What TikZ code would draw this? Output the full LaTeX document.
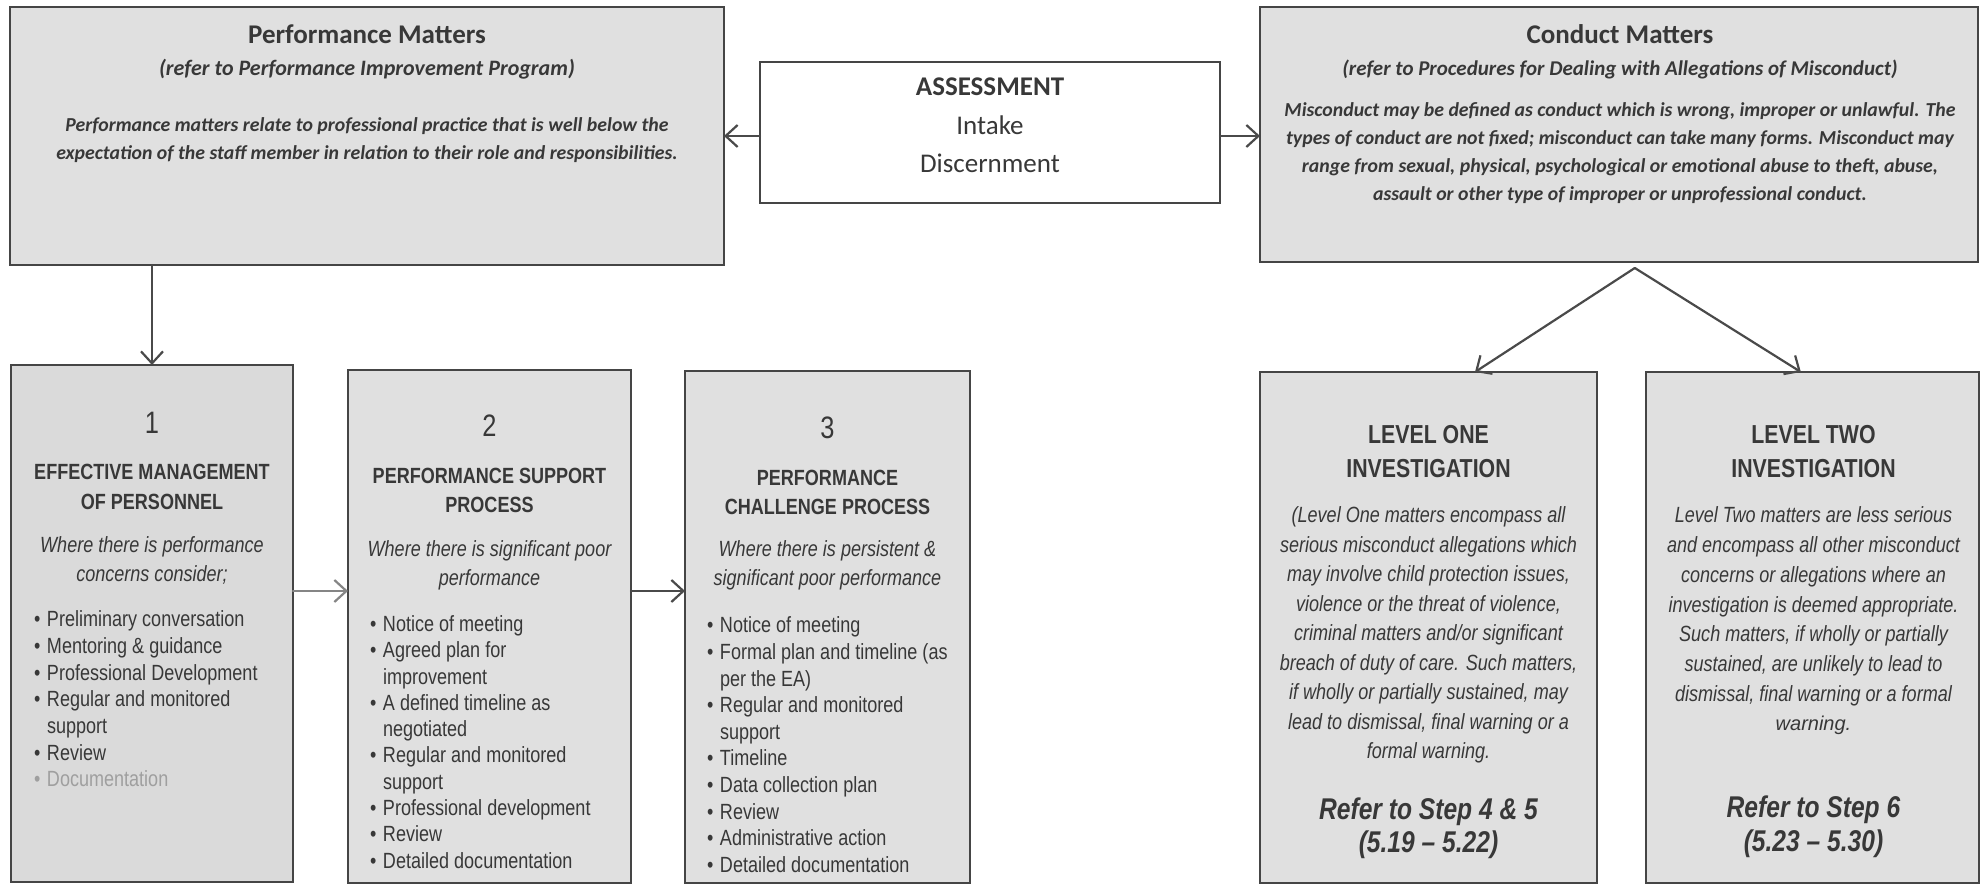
\documentclass[tikz,border=0pt]{standalone}
\usepackage{fontspec}
\usetikzlibrary{arrows.meta,calc}
\newfontfamily\calfont{Carlito}
\newfontfamily\narfont[FakeStretch=0.82]{Liberation Sans}
\newfontfamily\arfont{Liberation Sans}
\definecolor{boxc}{HTML}{E0E0E0}
\definecolor{boxd}{HTML}{DADADA}
\definecolor{bordc}{HTML}{454545}
\definecolor{txtc}{HTML}{383838}
\definecolor{arrc}{HTML}{4A4A4A}
\definecolor{arrl}{HTML}{858585}
\newcommand\ctext[2]{\parbox[t]{#1}{\centering #2}}
\newcommand\ltext[2]{\parbox[t]{#1}{\raggedright #2}}
\newcommand\bl{\makebox[6.5pt][l]{\textbullet}}
\newcommand\ind{\hspace*{6.5pt}}
\tikzset{
  box/.style={draw=bordc, line width=1.2pt, fill=boxc, inner sep=0pt, outer sep=0pt},
  wbox/.style={box, fill=white},
  txt/.style={inner sep=0pt, outer sep=0pt, text=txtc, anchor=base},
  ltxt/.style={txt, anchor=base west},
  arr/.style={draw=arrc, line width=1.1pt, line cap=round, -{Straight Barb[length=6pt,width=11pt,line width=1.1pt]}},
}
\begin{document}
\begin{tikzpicture}[x=0.5pt,y=-0.5pt]
\useasboundingbox (0,0) rectangle (1982,886);
\fill[white] (0,0) rectangle (1982,886);

% ---------- boxes ----------
\node[box, minimum width=357pt, minimum height=129pt] (PM) at (367,136) {};
\node[wbox, minimum width=230pt, minimum height=70.5pt] (AS) at (990,132.5) {};
\node[box, minimum width=359pt, minimum height=127.5pt] (CM) at (1619,134.5) {};
\node[box, fill=boxd, minimum width=141pt, minimum height=258.5pt] (B1) at (152,623.5) {};
\node[box, minimum width=141.5pt, minimum height=256.5pt] (B2) at (489.5,626.5) {};
\node[box, minimum width=142.5pt, minimum height=256pt] (B3) at (827.5,627) {};
\node[box, minimum width=168.5pt, minimum height=255.5pt] (L1) at (1428.5,627.5) {};
\node[box, minimum width=166.5pt, minimum height=255.5pt] (L2) at (1812.5,627.5) {};

% ---------- Performance Matters ----------
\node[txt] (pmt) at (367,44) {\calfont\bfseries\fontsize{13.5}{16}\selectfont Performance Matters};
\node[txt] (pms) at (367,75.5) {\calfont\bfseries\itshape\fontsize{11}{13}\selectfont (refer to Performance Improvement Program)};
\node[txt] (pmb) at (367,132) {\ctext{400pt}{\calfont\bfseries\itshape\fontsize{9.9}{14}\selectfont
  Performance matters relate to professional practice that is well below the\\
  expectation of the staff member in relation to their role and responsibilities.}};

% ---------- Assessment ----------
\node[txt] (ast) at (990,95.6) {\calfont\bfseries\fontsize{13.5}{16}\selectfont ASSESSMENT};
\node[txt] (asb) at (990,134.5) {\ctext{200pt}{\calfont\fontsize{13.5}{19}\selectfont Intake\\ Discernment}};

% ---------- Conduct Matters ----------
\node[txt] (cmt) at (1620,44) {\calfont\bfseries\fontsize{13.5}{16}\selectfont Conduct Matters};
\node[txt] (cms) at (1620,75.5) {\calfont\bfseries\itshape\fontsize{10.5}{13}\selectfont (refer to Procedures for Dealing with Allegations of Misconduct)};
\node[txt] (cmb) at (1620,117) {\ctext{400pt}{\calfont\bfseries\itshape\fontsize{9.9}{13.85}\selectfont
  Misconduct may be defined as conduct which is wrong, improper or unlawful. The\\
  types of conduct are not fixed; misconduct can take many forms. Misconduct may\\
  range from sexual, physical, psychological or emotional abuse to theft, abuse,\\
  assault or other type of improper or unprofessional conduct.}};

% ---------- Box 1 ----------
\node[txt] (b1n) at (152,434) {\narfont\fontsize{15.5}{18}\selectfont 1};
\node[txt] (b1t) at (152,480) {\ctext{160pt}{\narfont\bfseries\fontsize{11}{15}\selectfont EFFECTIVE MANAGEMENT\\ OF PERSONNEL}};
\node[txt] (b1i) at (152,553) {\ctext{160pt}{\narfont\itshape\fontsize{11}{14.5}\selectfont Where there is performance\\ concerns consider;}};
\node[ltxt] (b1l) at (34,627) {\ltext{150pt}{\narfont\fontsize{11}{13.33}\selectfont
  \bl Preliminary conversation\\
  \bl Mentoring \& guidance\\
  \bl Professional Development\\
  \bl Regular and monitored\\
  \ind support\\
  \bl Review\\
  {\color{gray!75}\bl Documentation}}};

% ---------- Box 2 ----------
\node[txt] (b2n) at (489.5,437) {\narfont\fontsize{15.5}{18}\selectfont 2};
\node[txt] (b2t) at (489.5,484) {\ctext{160pt}{\narfont\bfseries\fontsize{11}{14.5}\selectfont PERFORMANCE SUPPORT\\ PROCESS}};
\node[txt] (b2i) at (489.5,557) {\ctext{160pt}{\narfont\itshape\fontsize{11}{14.5}\selectfont Where there is significant poor\\ performance}};
\node[ltxt] (b2l) at (370,631.5) {\ltext{150pt}{\narfont\fontsize{11}{13.15}\selectfont
  \bl Notice of meeting\\
  \bl Agreed plan for\\
  \ind improvement\\
  \bl A defined timeline as\\
  \ind negotiated\\
  \bl Regular and monitored\\
  \ind support\\
  \bl Professional development\\
  \bl Review\\
  \bl Detailed documentation}};

% ---------- Box 3 ----------
\node[txt] (b3n) at (827.5,439) {\narfont\fontsize{15.5}{18}\selectfont 3};
\node[txt] (b3t) at (827.5,485.5) {\ctext{160pt}{\narfont\bfseries\fontsize{11}{14.3}\selectfont PERFORMANCE\\ CHALLENGE PROCESS}};
\node[txt] (b3i) at (827.5,557) {\ctext{160pt}{\narfont\itshape\fontsize{11}{14.5}\selectfont Where there is persistent \&\\ significant poor performance}};
\node[ltxt] (b3l) at (707,633) {\ltext{150pt}{\narfont\fontsize{11}{13.3}\selectfont
  \bl Notice of meeting\\
  \bl Formal plan and timeline (as\\
  \ind per the EA)\\
  \bl Regular and monitored\\
  \ind support\\
  \bl Timeline\\
  \bl Data collection plan\\
  \bl Review\\
  \bl Administrative action\\
  \bl Detailed documentation}};

% ---------- Level One ----------
\node[txt] (l1t) at (1428.5,443.5) {\ctext{180pt}{\narfont\bfseries\fontsize{13}{17}\selectfont LEVEL ONE\\ INVESTIGATION}};
\node[txt] (l1b) at (1428.5,523) {\ctext{200pt}{\narfont\itshape\fontsize{11}{14.75}\selectfont
  (Level One matters encompass all\\
  serious misconduct allegations which\\
  may involve child protection issues,\\
  violence or the threat of violence,\\
  criminal matters and/or significant\\
  breach of duty of care. Such matters,\\
  if wholly or partially sustained, may\\
  lead to dismissal, final warning or a\\
  formal warning.}};
\node[txt] (l1r) at (1428.5,820) {\ctext{180pt}{\narfont\bfseries\itshape\fontsize{15}{16.5}\selectfont Refer to Step 4 \& 5\\ (5.19 – 5.22)}};

% ---------- Level Two ----------
\node[txt] (l2t) at (1813.5,443.5) {\ctext{180pt}{\narfont\bfseries\fontsize{13}{17}\selectfont LEVEL TWO\\ INVESTIGATION}};
\node[txt] (l2b) at (1813.5,523) {\ctext{200pt}{\narfont\itshape\fontsize{11}{14.85}\selectfont
  Level Two matters are less serious\\
  and encompass all other misconduct\\
  concerns or allegations where an\\
  investigation is deemed appropriate.\\
  Such matters, if wholly or partially\\
  sustained, are unlikely to lead to\\
  dismissal, final warning or a formal\\
  {\arfont\itshape\fontsize{10}{14.85}\selectfont warning.}}};
\node[txt] (l2r) at (1813.5,818) {\ctext{180pt}{\narfont\bfseries\itshape\fontsize{15}{17}\selectfont Refer to Step 6\\ (5.23 – 5.30)}};

% ---------- connectors ----------
\coordinate (ya) at (0,136);
\coordinate (yb) at (0,591);
\draw[arr] (AS.west |- ya) -- (PM.east |- ya);
\draw[arr] (AS.east |- ya) -- (CM.west |- ya);
\draw[arr] (B1.north |- PM.south) -- (B1.north);
\draw[arr, draw=arrl] (B1.east |- yb) -- (B2.west |- yb);
\draw[arr] (B2.east |- yb) -- (B3.west |- yb);
\coordinate (apex) at ($(CM.south west)!0.522!(CM.south east) + (0,6)$);
\draw[arr] (apex) -- ($(L1.north west)!0.638!(L1.north east)$);
\draw[arr] (apex) -- ($(L2.north west)!0.465!(L2.north east)$);
\end{tikzpicture}
\end{document}
